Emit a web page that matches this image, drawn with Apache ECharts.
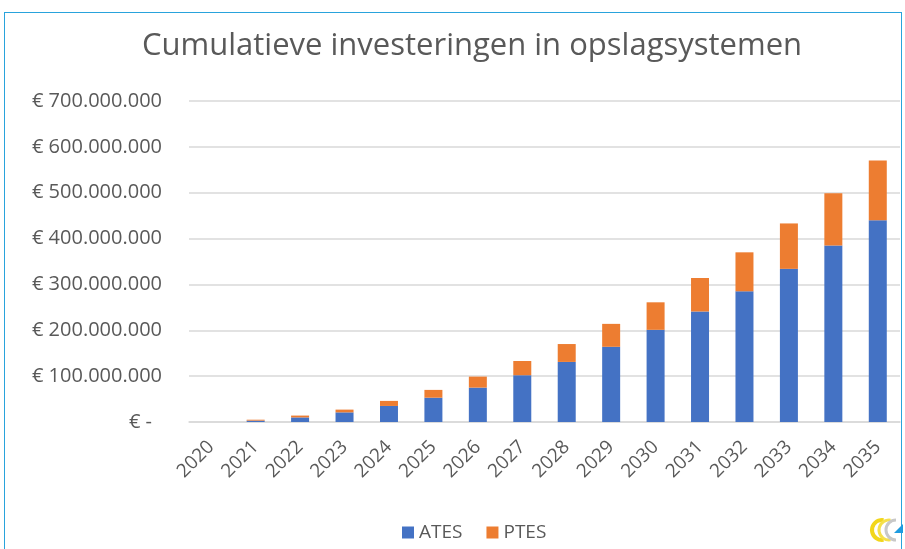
<!DOCTYPE html>
<html>
<head>
<meta charset="utf-8">
<script src="https://cdn.jsdelivr.net/npm/echarts@6/dist/echarts.min.js"></script>
<style>
html, body { margin: 0; padding: 0; background: #fff; }
#frame { position: absolute; left: 4px; top: 12px; width: 898px; height: 545px; border: 1px solid #29a3dc; box-sizing: border-box; }
#chart { position: absolute; left: 0; top: 0; width: 905px; height: 549px; }
</style>
</head>
<body>
<div id="frame"></div>
<div id="chart"></div>
<script>
const years = ['2020','2021','2022','2023','2024','2025','2026','2027','2028','2029','2030','2031','2032','2033','2034','2035'];
// waarden in miljoenen euro
const ates = [0, 3, 10, 21, 35, 53, 75, 102, 131, 164, 201, 241, 285, 334, 385, 440];
const ptes = [0, 2, 4, 6, 11, 17, 24, 31, 39, 50, 60, 73, 85, 99, 114, 130];
const M = 1000000;

const chart = echarts.init(document.getElementById('chart'));

function euro (v) {
    if (v === 0) return '{z|€ -}';
    return '€ ' + String(Math.round(v)).replace(/\B(?=(\d{3})+(?!\d))/g, '.');
}

const option = {
    animation: false,
    textStyle: { fontFamily: 'Open Sans' },
    title: {
        text: 'Cumulatieve investeringen in opslagsystemen',
        left: 137,
        top: 26,
        textStyle: { fontSize: 31, fontWeight: 'normal', color: '#595959', fontFamily: 'Open Sans' }
    },
    legend: {
        top: 518,
        left: 397,
        itemWidth: 12,
        itemHeight: 12,
        itemGap: 24,
        icon: 'rect',
        textStyle: { fontSize: 19, color: '#595959' },
        data: ['ATES', 'PTES']
    },
    grid: { left: 189, right: 5, top: 101, bottom: 127 },
    xAxis: {
        type: 'category',
        data: years,
        axisTick: { show: false },
        axisLine: { lineStyle: { color: '#d9d9d9', width: 1.5 } },
        axisLabel: { rotate: 45, fontSize: 19, color: '#595959', margin: 22 }
    },
    yAxis: {
        type: 'value',
        min: 0,
        max: 700 * M,
        interval: 100 * M,
        axisLine: { show: false },
        axisTick: { show: false },
        splitLine: { lineStyle: { color: '#d9d9d9', width: 1.5 } },
        axisLabel: {
            fontSize: 20,
            color: '#595959',
            margin: 27,
            formatter: euro,
            rich: { z: { fontSize: 20, color: '#595959', padding: [0, 10, 0, 0] } }
        }
    },
    graphic: [
        { type: 'arc', shape: { cx: 882, cy: 530, r: 10, startAngle: Math.PI * 0.45, endAngle: Math.PI * 1.55 }, style: { stroke: '#f2d61a', lineWidth: 4, fill: null } },
        { type: 'arc', shape: { cx: 889, cy: 530, r: 10, startAngle: Math.PI * 0.45, endAngle: Math.PI * 1.55 }, style: { stroke: '#f5e04a', lineWidth: 3, fill: null } },
        { type: 'arc', shape: { cx: 896, cy: 530, r: 10, startAngle: Math.PI * 0.5, endAngle: Math.PI * 1.5 }, style: { stroke: '#c8c8c8', lineWidth: 3, fill: null } },
        { type: 'polygon', shape: { points: [[894, 533], [903, 533], [903, 524]] }, style: { fill: '#1e9be0' } }
    ],
    series: [
        {
            name: 'ATES',
            type: 'bar',
            stack: 'totaal',
            barWidth: 18,
            itemStyle: { color: '#4472c4' },
            data: ates.map(v => v * M)
        },
        {
            name: 'PTES',
            type: 'bar',
            stack: 'totaal',
            barWidth: 18,
            itemStyle: { color: '#ed7d31' },
            data: ptes.map(v => v * M)
        }
    ]
};
chart.setOption(option);
</script>
</body>
</html>
